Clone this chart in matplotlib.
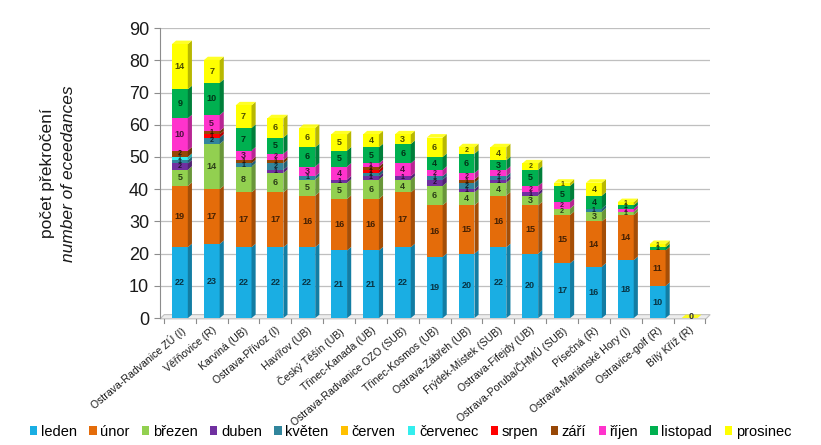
import numpy as np
import matplotlib
matplotlib.use("Agg")
import matplotlib.pyplot as plt
from matplotlib.patches import Polygon, Patch
import matplotlib.colors as mcolors

plt.rcParams['font.family'] = ['Liberation Sans', 'DejaVu Sans']

stations = ["Ostrava-Radvanice ZÚ (I)", "Věřňovice (R)", "Karviná (UB)", "Ostrava-Přívoz (I)",
            "Havířov (UB)", "Český Těšín (UB)", "Třinec-Kanada (UB)", "Ostrava-Radvanice OZO (SUB)",
            "Třinec-Kosmos (UB)", "Ostrava-Zábřeh (UB)", "Frýdek-Místek (SUB)", "Ostrava-Fifejdy (UB)",
            "Ostrava-Poruba/ČHMÚ (SUB)", "Písečná (R)", "Ostrava-Mariánské Hory (I)", "Ostravice-golf (R)",
            "Bílý Kříž (R)"]

months = ["leden", "únor", "březen", "duben", "květen", "červen", "červenec",
          "srpen", "září", "říjen", "listopad", "prosinec"]

leden    = [22, 23, 22, 22, 22, 21, 21, 22, 19, 20, 22, 20, 17, 16, 18, 10, 0]
unor     = [19, 17, 17, 17, 16, 16, 16, 17, 16, 15, 16, 15, 15, 14, 14, 11, 0]
brezen   = [5, 14, 8, 6, 5, 5, 6, 4, 6, 4, 4, 3, 2, 3, 1, 0, 0]
duben    = [2, 0, 0, 1, 0, 1, 1, 1, 2, 1, 1, 1, 0, 0, 0, 0, 0]
kveten   = [1, 2, 1, 2, 1, 0, 1, 0, 1, 2, 1, 0, 0, 1, 0, 0, 0]
cerven   = [0, 0, 0, 0, 0, 0, 0, 0, 0, 0, 0, 0, 0, 0, 0, 0, 0]
cervenec = [1, 0, 0, 0, 0, 0, 0, 0, 0, 0, 0, 0, 0, 0, 0, 0, 0]
srpen    = [0, 1, 0, 0, 0, 0, 1, 0, 0, 0, 0, 0, 0, 0, 0, 0, 0]
zari     = [2, 1, 1, 1, 0, 0, 1, 0, 0, 1, 0, 0, 0, 0, 0, 0, 0]
rijen    = [10, 5, 3, 2, 3, 4, 1, 4, 2, 2, 2, 2, 2, 0, 1, 0, 0]
listopad = [9, 10, 7, 5, 6, 5, 5, 6, 4, 6, 3, 5, 5, 4, 1, 1, 0]
prosinec = [14, 7, 7, 6, 6, 5, 4, 3, 6, 2, 4, 2, 1, 4, 1, 1, 0]

series = [leden, unor, brezen, duben, kveten, cerven, cervenec, srpen, zari, rijen, listopad, prosinec]
colors = ["#1AAEE3", "#E46C0A", "#92D050", "#7030A0", "#31859C", "#FFC000",
          "#33EEEE", "#FF0000", "#974706", "#FF33CC", "#00B050", "#FFFF00"]

fig = plt.figure(figsize=(8.21, 4.45), dpi=100)
ax = fig.add_axes([0.195, 0.285, 0.67, 0.652])
n = len(stations)
x = np.arange(n)
xl, xr = -0.62, n - 0.35
ax.set_xlim(xl, xr)
ax.set_ylim(0, 90)

w = 0.5      # front width
dx = 0.13    # depth offset x
dy = 1.1     # depth offset y

def darker(c, f):
    r, g, b = mcolors.to_rgb(c)
    return (r * f, g * f, b * f)

# floor
floor = Polygon([(xl, -0.2), (xr - dx, -0.2), (xr, dy), (xl + dx, dy)], closed=True,
                facecolor="#EDEDED", edgecolor="#BFBFBF", lw=0.8, zorder=0.5, clip_on=False)
ax.add_patch(floor)

# gridlines
for v in range(10, 91, 10):
    ax.plot([xl, xr], [v, v], color="#BFBFBF", lw=0.9, zorder=0.4)

bottoms = np.zeros(n)
for s, vals in enumerate(series):
    vals = np.array(vals, dtype=float)
    col = colors[s]
    for i in range(n):
        v = vals[i]
        if v <= 0:
            continue
        b = bottoms[i]
        t = b + v
        x0, x1 = x[i] - w / 2, x[i] + w / 2
        ax.add_patch(Polygon([(x0, b), (x1, b), (x1, t), (x0, t)], closed=True,
                             facecolor=col, edgecolor="none", zorder=3))
        ax.add_patch(Polygon([(x1, b), (x1 + dx, b + dy), (x1 + dx, t + dy), (x1, t)], closed=True,
                             facecolor=darker(col, 0.72), edgecolor="none", zorder=3))
        fs = 6.5 if v >= 3 else 5.0
        ax.text(x[i], b + v / 2, f"{int(v)}", ha="center", va="center", fontsize=fs,
                fontweight="bold", color=darker(col, 0.3), zorder=5)
    bottoms += vals

# top faces
totals = bottoms.copy()
for i in range(n):
    t = totals[i]
    top_col = None
    for s in range(len(series) - 1, -1, -1):
        if series[s][i] > 0:
            top_col = colors[s]
            break
    if top_col is None:
        top_col = colors[-1]
    x0, x1 = x[i] - w / 2, x[i] + w / 2
    ax.add_patch(Polygon([(x0, t), (x1, t), (x1 + dx, t + dy), (x0 + dx, t + dy)], closed=True,
                         facecolor=mcolors.to_rgb(top_col), edgecolor="none", zorder=4,
                         alpha=0.85))
    if t == 0:
        ax.text(x[i] + 0.05, 0.5, "0", ha="center", va="center", fontsize=6.5,
                fontweight="bold", color="#333333", zorder=5)

ax.set_yticks(np.arange(0, 91, 10))
ax.set_yticklabels([str(v) for v in range(0, 91, 10)], fontsize=13, color="#1A1A1A")
ax.set_xticks(x)
ax.set_xticklabels(stations, rotation=40, ha="right", rotation_mode="anchor", fontsize=7.6,
                   color="#1A1A1A")
ax.tick_params(axis="x", length=0, pad=5)
ax.tick_params(axis="y", length=4, color="#8C8C8C", pad=4)
for side in ["top", "right", "bottom"]:
    ax.spines[side].set_visible(False)
ax.spines["left"].set_color("#8C8C8C")
for k in range(n + 1):
    xx = k - 0.5
    ax.plot([xx, xx], [-0.2, -1.5], color="#8C8C8C", lw=0.8, clip_on=False, zorder=1)

fig.text(0.058, 0.61, "počet překročení", rotation=90, ha="center", va="center",
         fontsize=12.5, color="#1A1A1A")
fig.text(0.083, 0.61, "number of eceedances", rotation=90, ha="center", va="center",
         fontsize=12.5, style="italic", color="#1A1A1A")

handles = [Patch(facecolor=c, edgecolor="none") for c in colors]
fig.legend(handles, months, loc="lower center", bbox_to_anchor=(0.5, -0.012), ncol=12,
           frameon=False, fontsize=10.5, handlelength=0.5, handleheight=0.6,
           handletextpad=0.25, columnspacing=0.85, borderpad=0.3)

fig.savefig("out.png", dpi=100)
